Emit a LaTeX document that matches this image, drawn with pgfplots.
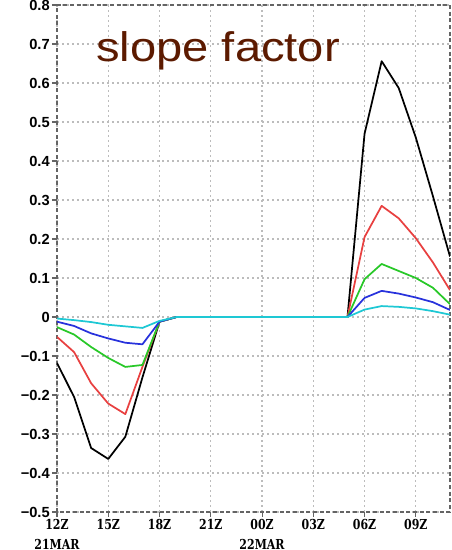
\documentclass[border=0pt]{standalone}
\usepackage{pgfplots}
\pgfplotsset{compat=1.18}
\usepackage{pgfplotstable}
\usepackage{fontspec}
\setmainfont{Liberation Sans}
\newfontfamily\tickfont[FakeStretch=0.8]{DejaVu Serif}
\definecolor{ttl}{RGB}{92,26,0}
\definecolor{cred}{RGB}{232,64,64}
\definecolor{cgreen}{RGB}{40,200,40}
\definecolor{cblue}{RGB}{40,50,220}
\definecolor{ccyan}{RGB}{30,200,212}
\definecolor{frame}{RGB}{100,100,100}
\definecolor{gridc}{RGB}{188,188,188}
\pgfplotstableread{
h k r g b c
0 -0.118 -0.051 -0.026 -0.012 -0.004
1 -0.205 -0.090 -0.045 -0.023 -0.008
2 -0.336 -0.170 -0.077 -0.042 -0.013
3 -0.364 -0.222 -0.105 -0.055 -0.020
4 -0.307 -0.249 -0.128 -0.066 -0.024
5 -0.155 -0.128 -0.123 -0.070 -0.028
6 -0.012 -0.012 -0.012 -0.012 -0.010
7 0 0 0 0 0
8 0 0 0 0 0
9 0 0 0 0 0
10 0 0 0 0 0
11 0 0 0 0 0
12 0 0 0 0 0
13 0 0 0 0 0
14 0 0 0 0 0
15 0 0 0 0 0
16 0 0 0 0 0
17 0 0 0 0 0
18 0.470 0.205 0.097 0.049 0.019
19 0.656 0.285 0.136 0.067 0.028
20 0.587 0.253 0.118 0.060 0.026
21 0.460 0.202 0.100 0.050 0.022
22 0.310 0.140 0.075 0.038 0.015
23 0.155 0.069 0.033 0.018 0.006
}\data
\begin{document}
\begin{tikzpicture}
\useasboundingbox (0,0) rectangle (339pt,412.5pt);
\begin{axis}[
  at={(42.75pt,28.5pt)}, anchor=south west,
  scale only axis, width=294.75pt, height=380.25pt,
  xmin=0, xmax=23, ymin=-0.5, ymax=0.8,
  xtick={0,3,6,9,12,15,18,21},
  xticklabels={{12Z\\21MAR},15Z,18Z,21Z,{00Z\\22MAR},03Z,06Z,09Z},
  xticklabel style={font=\tickfont\bfseries\fontsize{10.3}{15}\selectfont, align=center, inner sep=1.5pt},
  ytick={-0.5,-0.4,-0.3,-0.2,-0.1,0,0.1,0.2,0.3,0.4,0.5,0.6,0.7,0.8},
  yticklabels={−0.5,−0.4,−0.3,−0.2,−0.1,0,0.1,0.2,0.3,0.4,0.5,0.6,0.7,0.8},
  yticklabel style={font=\bfseries\fontsize{11}{12}\selectfont, inner sep=1.5pt},
  tick align=outside, xtick pos=bottom, ytick pos=left,
  major tick length=3.75pt,
  xmajorgrids=true, ymajorgrids=true,
  tick style={frame, line width=0.8pt},
  axis line style={frame, densely dashed, line width=0.9pt},
  major grid style={gridc, solid, line width=1pt, dash pattern=on 1.3pt off 2.45pt},
  every axis plot/.append style={line width=1.3pt, line join=round},
]
\addplot[black] table[x=h,y=k]{\data};
\addplot[cred] table[x=h,y=r]{\data};
\addplot[cgreen] table[x=h,y=g]{\data};
\addplot[cblue] table[x=h,y=b]{\data};
\addplot[ccyan] table[x=h,y=c]{\data};
\end{axis}
\node[anchor=base west, inner sep=0pt, text=ttl, xscale=1.14, font=\fontsize{31}{31}\selectfont] at (72pt,366.5pt) {slope factor};
\end{tikzpicture}
\end{document}
